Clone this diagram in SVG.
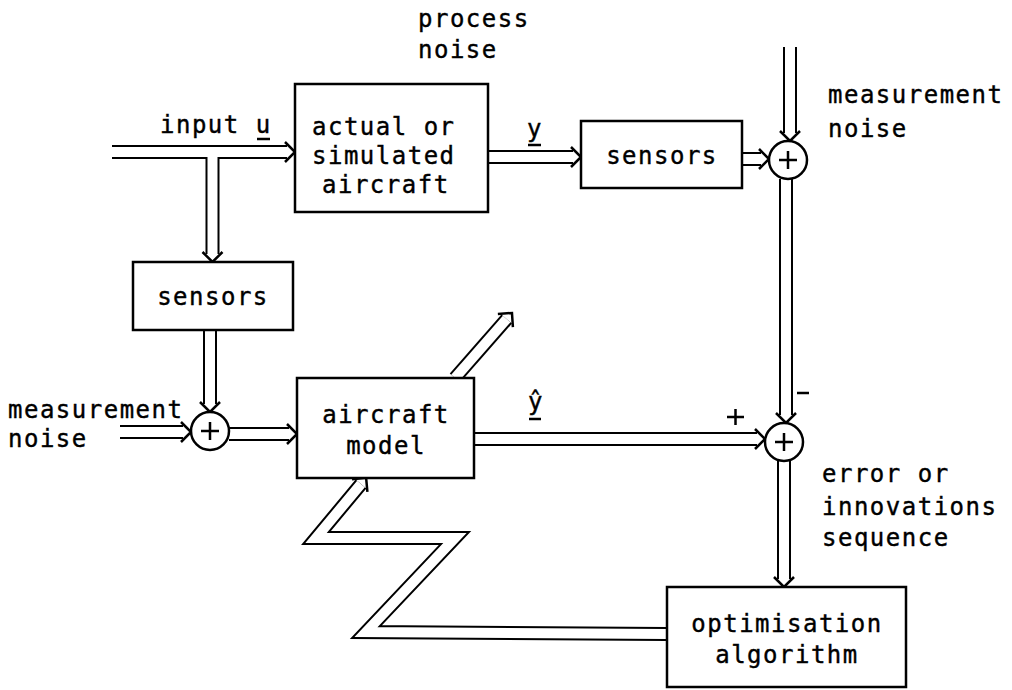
<svg xmlns="http://www.w3.org/2000/svg" width="1012" height="690" viewBox="0 0 1012 690">
<style>
.t{font-family:"DejaVu Sans Mono","Liberation Mono",monospace;font-size:24px;letter-spacing:1.5px;fill:#000;stroke:#000;stroke-width:0.4}
.m{text-anchor:middle}
.o{fill:none;stroke:#000;stroke-width:14;stroke-linejoin:miter}
.i{fill:none;stroke:#fff;stroke-width:10;stroke-linejoin:miter}
.box{fill:#fff;stroke:#000;stroke-width:2.5}
.sum{fill:#fff;stroke:#000;stroke-width:2.5}
.ln{fill:none;stroke:#000;stroke-width:2.5}
</style>
<defs>
<marker id="ah" markerUnits="userSpaceOnUse" viewBox="-15 -15 30 30" markerWidth="30" markerHeight="30" refX="0" refY="0" orient="auto" overflow="visible">
<path d="M-2,-10 L8,0 L-2,10" fill="none" stroke="#000" stroke-width="2.5"/>
</marker>
</defs>
<rect width="1012" height="690" fill="#fff"/>
<g id="connectors">
<g class="o" marker-end="url(#ah)">
<path d="M112,152 L287,152"/>
<path d="M212.5,152 L212.5,254"/>
<path d="M488,157 L573,157"/>
<path d="M742,159 L761,159"/>
<path d="M790,47 L790,133"/>
<path d="M786,179 L786,415"/>
<path d="M784,461 L784,579"/>
<path d="M474,439 L757,439"/>
<path d="M120,432 L183,432"/>
<path d="M210,330 L210,404"/>
<path d="M229,434 L289,434"/>
<path d="M455,378 L506.7,319"/>
<path d="M667,634 L366,632 L455,538 L316,538 L361,484"/>
</g>
<g class="i">
<path d="M112,152 L287,152"/>
<path d="M212.5,152 L212.5,254"/>
<path d="M488,157 L573,157"/>
<path d="M742,159 L761,159"/>
<path d="M790,47 L790,133"/>
<path d="M786,179 L786,415"/>
<path d="M784,461 L784,579"/>
<path d="M474,439 L757,439"/>
<path d="M120,432 L183,432"/>
<path d="M210,330 L210,404"/>
<path d="M229,434 L289,434"/>
<path d="M455,378 L506.7,319"/>
<path d="M667,634 L366,632 L455,538 L316,538 L361,484"/>
</g>
</g>
<g id="aircraft">
<rect class="box" x="295" y="84" width="193" height="128"/>
<text class="t" x="312" y="135">actual or</text>
<text class="t" x="312" y="164">simulated</text>
<text class="t" x="322" y="193">aircraft</text>
</g>
<g id="sensors-top">
<rect class="box" x="581" y="121" width="161" height="67"/>
<text class="t m" x="662" y="164">sensors</text>
</g>
<g id="sum-top">
<circle class="sum" cx="788" cy="160" r="19"/>
<path class="ln" d="M779,160 H797 M788,151 V169"/>
</g>
<g id="sensors-left">
<rect class="box" x="133" y="262" width="160" height="68"/>
<text class="t m" x="213" y="305">sensors</text>
</g>
<g id="sum-left">
<circle class="sum" cx="210" cy="431" r="19"/>
<path class="ln" d="M201,431 H219 M210,422 V440"/>
</g>
<g id="model">
<rect class="box" x="297" y="378" width="177" height="100"/>
<text class="t m" x="386" y="423">aircraft</text>
<text class="t m" x="386" y="454">model</text>
</g>
<g id="sum-bottom">
<circle class="sum" cx="784" cy="442" r="19"/>
<path class="ln" d="M775,442 H793 M784,433 V451"/>
</g>
<g id="optimisation">
<rect class="box" x="667" y="587" width="239" height="100"/>
<text class="t m" x="787" y="632">optimisation</text>
<text class="t m" x="787" y="663">algorithm</text>
</g>
<g id="labels">
<text class="t" x="418" y="27">process</text>
<text class="t" x="418" y="58">noise</text>
<text class="t" x="160" y="133">input u</text>
<path class="ln" d="M257,139 H270"/>
<text class="t" x="527" y="137">y</text>
<path class="ln" d="M528,145 H541"/>
<text class="t" x="828" y="103">measurement</text>
<text class="t" x="828" y="137">noise</text>
<text class="t" x="8" y="418">measurement</text>
<text class="t" x="8" y="447">noise</text>
<text class="t" x="528" y="410">ŷ</text>
<path class="ln" d="M529,419 H541"/>
<path class="ln" d="M727,417 H744 M735.5,409 V425"/>
<path class="ln" d="M797,393 H809"/>
<text class="t" x="822" y="482">error or</text>
<text class="t" x="822" y="515">innovations</text>
<text class="t" x="822" y="546">sequence</text>
</g>
</svg>
